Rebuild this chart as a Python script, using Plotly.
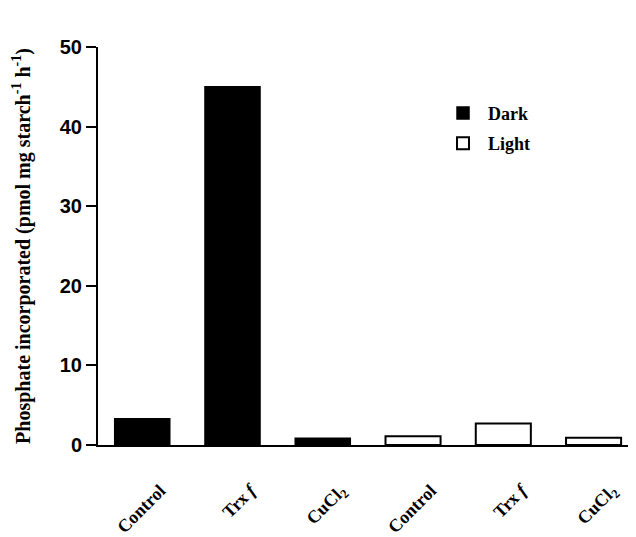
import plotly.graph_objects as go

tick_labels = ["Control", "Trx <i>f</i>", "CuCl<sub>2</sub>", "Control", "Trx <i>f</i>", "CuCl<sub>2</sub>"]
dark_x = [0, 1, 2]
dark_values = [3.3, 45.0, 0.85]
light_x = [3, 4, 5]
light_values = [1.1, 2.7, 0.9]

serif = "Liberation Serif"
sans = "Liberation Sans"

fig = go.Figure()
fig.add_trace(go.Bar(x=dark_x, y=dark_values, name="Dark", width=0.61, legendgroup="d",
                     marker=dict(color="black", line=dict(color="black", width=1.5))))
fig.add_trace(go.Bar(x=light_x, y=light_values, name="Light", width=0.61, legendgroup="l",
                     marker=dict(color="white", line=dict(color="black", width=2))))

fig.update_layout(
    width=628, height=529,
    margin=dict(l=90, r=0, t=39, b=92, autoexpand=False),
    plot_bgcolor="white", paper_bgcolor="white",
    showlegend=True,
    legend=dict(x=0.632, y=0.88, xanchor="left", yanchor="top",
                font=dict(family=serif, size=18, color="black", weight="bold"),
                bgcolor="rgba(0,0,0,0)", tracegroupgap=4, itemwidth=40),
    xaxis=dict(range=[-0.49, 5.47], tickmode="array", tickvals=list(range(6)),
               ticktext=tick_labels, tickangle=-45, ticks="",
               showline=True, linecolor="black", linewidth=2, showgrid=False, zeroline=False,
               tickfont=dict(family=serif, size=18, color="black", weight="bold"),
               ticklabelstandoff=26, ticklabelshift=18, automargin=False),
    yaxis=dict(range=[0, 50], tickvals=[0, 10, 20, 30, 40, 50], ticks="outside", ticklen=10,
               tickwidth=1.5, tickcolor="black",
               showline=True, linecolor="black", linewidth=2, showgrid=False, zeroline=False,
               tickfont=dict(family=sans, size=20, color="black", weight="bold"),
               title=dict(text="Phosphate incorporated (pmol mg starch<sup>-1</sup> h<sup>-1</sup>)",
                          font=dict(family=serif, size=20, color="black", weight="bold"), standoff=24),
               automargin=False),
    bargap=0.39,
)

fig.write_html("out.html")
